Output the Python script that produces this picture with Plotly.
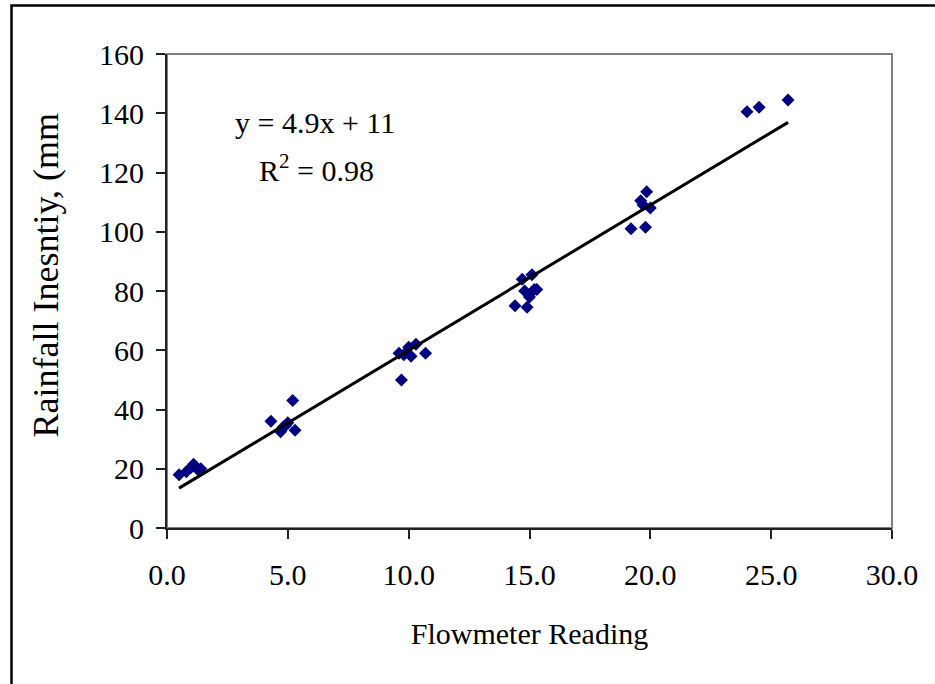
import plotly.graph_objects as go

# Data
flow_x = [0.5, 0.8, 1.0, 1.1, 1.3, 1.4,
          4.3, 4.7, 4.8, 4.9, 5.0, 5.2, 5.3,
          9.6, 9.7, 9.8, 10.0, 10.1, 10.3, 10.7,
          14.4, 14.7, 14.8, 14.9, 15.0, 15.1, 15.2, 15.3,
          19.2, 19.6, 19.7, 19.8, 19.85, 20.0,
          24.0, 24.5, 25.7]
rain_y = [18.0, 19.0, 20.5, 21.5, 19.5, 20.0,
          36.0, 32.5, 34.0, 34.5, 35.5, 43.0, 33.0,
          59.0, 50.0, 58.5, 61.0, 58.0, 62.0, 59.0,
          75.0, 84.0, 80.0, 74.5, 78.0, 85.5, 80.5, 80.5,
          101.0, 110.5, 109.0, 101.5, 113.5, 108.0,
          140.5, 142.0, 144.5]

SLOPE = 4.9
INTERCEPT = 11.0
eq_text = "y = 4.9x + 11"
r2_text = "R<sup>2</sup> = 0.98"
x_ticks = [0, 5, 10, 15, 20, 25, 30]
y_ticks = [0, 20, 40, 60, 80, 100, 120, 140, 160]

FONT = "Liberation Serif, Times New Roman, serif"

xmin, xmax = min(flow_x), max(flow_x)
line_x = [xmin, xmax]
line_y = [SLOPE * v + INTERCEPT for v in line_x]

fig = go.Figure()
fig.add_trace(go.Scatter(
    x=flow_x, y=rain_y, mode="markers",
    marker=dict(symbol="diamond", size=10, color="#000080", line=dict(width=0)),
    showlegend=False, cliponaxis=False))
fig.add_trace(go.Scatter(
    x=line_x, y=line_y, mode="lines",
    line=dict(color="black", width=3), showlegend=False))

# margins in pixels
L, R, T, B = 167, 43, 54, 156
W, H = 935, 684
pw, ph = W - L - R, H - T - B

def px2paper_x(px):
    return (px - L) / pw

def px2paper_y(py):
    return (H - B - py) / ph

shapes = [
    # plot area border (gray)
    dict(type="rect", xref="paper", yref="paper", x0=0, x1=1, y0=0, y1=1,
         line=dict(color="#808080", width=2), layer="below"),
    # outer chart border (black)
    dict(type="rect", xref="paper", yref="paper",
         x0=px2paper_x(11.5), x1=px2paper_x(945),
         y0=px2paper_y(695), y1=px2paper_y(5.5),
         line=dict(color="black", width=2.5), layer="below"),
]

annotations = [
    dict(text=eq_text, x=(315 - L) / pw * 30, y=(H - B - 122) / ph * 160,
         xref="x", yref="y", showarrow=False,
         font=dict(family=FONT, size=30, color="black")),
    dict(text=r2_text, x=(316 - L) / pw * 30, y=(H - B - 168) / ph * 160,
         xref="x", yref="y", showarrow=False,
         font=dict(family=FONT, size=30, color="black")),
    dict(text="Rainfall Inesntiy, (mm", x=px2paper_x(45), y=px2paper_y(440),
         xref="paper", yref="paper", xanchor="center", yanchor="bottom",
         textangle=-90, showarrow=False,
         font=dict(family=FONT, size=36, color="black")),
]

fig.update_layout(
    width=W, height=H,
    margin=dict(l=L, r=R, t=T, b=B),
    paper_bgcolor="white", plot_bgcolor="white",
    font=dict(family=FONT, size=30, color="black"),
    shapes=shapes, annotations=annotations,
    xaxis=dict(range=[0, 30], tickvals=x_ticks, tickformat=".1f",
               ticks="outside", ticklen=9, tickwidth=1.5, tickcolor="#222",
               showline=True, linecolor="#222", linewidth=2,
               showgrid=False, zeroline=False, ticklabelstandoff=10,
               title=dict(text="Flowmeter Reading", standoff=33,
                          font=dict(family=FONT, size=30)),
               tickfont=dict(family=FONT, size=30)),
    yaxis=dict(range=[0, 160], tickvals=y_ticks,
               ticks="outside", ticklen=9, tickwidth=1.5, tickcolor="#222",
               showline=True, linecolor="#222", linewidth=2,
               showgrid=False, zeroline=False, ticklabelstandoff=6,
               tickfont=dict(family=FONT, size=30)),
)

fig.write_html("out.html")
